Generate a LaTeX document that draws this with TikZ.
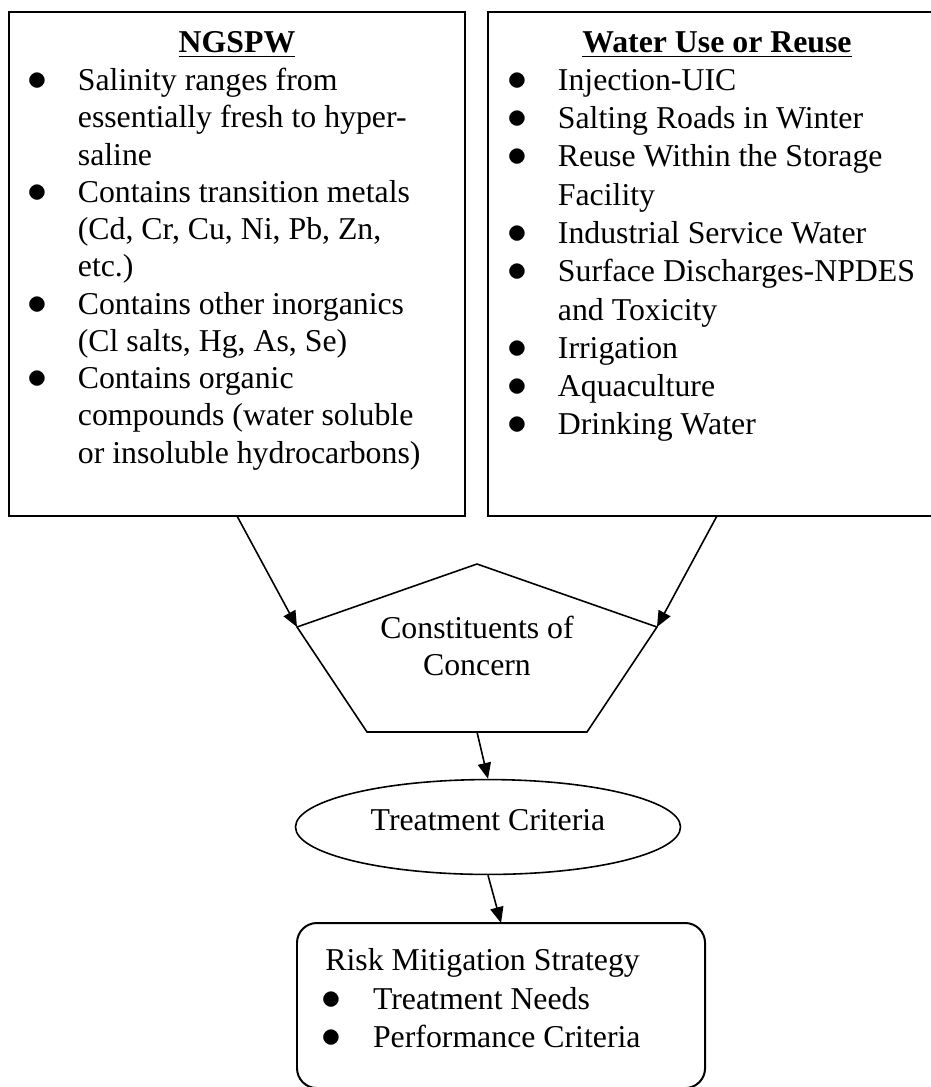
\documentclass[tikz,border=0pt]{standalone}
\usepackage{fontspec}
\setmainfont{Liberation Serif}
\usetikzlibrary{shapes.geometric,arrows.meta}
\newlength\bulx
\newlength\txtx
\newcommand{\bitem}{\par\noindent\hangindent=\txtx\hangafter=1%
 \hspace*{\bulx}\makebox[\dimexpr\txtx-\bulx\relax][l]{\scalebox{1.25}{$\bullet$}}}
\begin{document}
\begin{tikzpicture}[x=.3774pt,y=-.3774pt,
 panel/.style={draw,line width=.75pt,inner sep=0pt,outer sep=0pt,anchor=north west},
 outline/.style={draw,line width=.6pt},
 flow/.style={line width=.6pt,-{Triangle[length=6pt,width=5pt]}},
 font=\fontsize{12}{14}\selectfont]
 \path[use as bounding box,clip] (0,0) rectangle (931,1087);
 % top boxes
 \node[panel] (ngspw) at (9,12) {\parbox[t][190.2pt][t]{172.1pt}{%
 \fontsize{12}{14.06}\selectfont\setlength\bulx{6.9pt}\setlength\txtx{26pt}%
 {\centering\rule{0pt}{15.1pt}\textbf{\underline{NGSPW}}\par}\vspace{.5pt}\raggedright
 \bitem Salinity ranges from\newline essentially fresh to hyper-\newline saline
 \bitem Contains transition metals\newline (Cd, Cr, Cu, Ni, Pb, Zn,\newline etc.)
 \bitem Contains other inorganics\newline (Cl salts, Hg, As, Se)
 \bitem Contains organic\newline compounds (water soluble\newline or insoluble hydrocarbons)}};
 \node[panel] (reuse) at (488,12) {\parbox[t][190.2pt][t]{172.8pt}{%
 \fontsize{12}{14.45}\selectfont\setlength\bulx{7.4pt}\setlength\txtx{26.4pt}%
 {\centering\rule{0pt}{15.1pt}\textbf{\underline{Water Use or Reuse}}\par}\raggedright
 \bitem Injection-UIC
 \bitem Salting Roads in Winter
 \bitem Reuse Within the Storage\newline Facility
 \bitem Industrial Service Water
 \bitem Surface Discharges-NPDES\newline and Toxicity
 \bitem Irrigation
 \bitem Aquaculture
 \bitem Drinking Water}};
 % pentagon
 \coordinate (cocT) at (477,564);
 \coordinate (cocR) at (657,627);
 \coordinate (cocBR) at (587,732);
 \coordinate (cocBL) at (367,732);
 \coordinate (cocL) at (297,627);
 \coordinate (cocS) at (477,732);
 \draw[outline] (cocT)--(cocR)--(cocBR)--(cocBL)--(cocL)--cycle;
 \node[align=center] (coc) at (477,646) {Constituents of\\Concern};
 % ellipse
 \node[ellipse,outline,minimum width=145.3pt,minimum height=35.8pt,inner sep=0pt,
 text height=8pt,text depth=5.2pt] (crit) at (488,827) {Treatment Criteria};
 % bottom box
 \node[panel,rounded corners=7.5pt] (risk) at (297,923) {\parbox[t][62.3pt][t]{154pt}{%
 \fontsize{12}{14.5}\selectfont\setlength\bulx{9.4pt}\setlength\txtx{28.7pt}\raggedright
 \noindent\rule{0pt}{18pt}\hspace*{10.7pt}Risk Mitigation Strategy
 \bitem Treatment Needs
 \bitem Performance Criteria}};
 \begin{scope}[flow]
 \draw (ngspw.south)--(cocL);
 \draw (reuse.south)--(cocR);
 \draw (cocS)--(crit.north);
 \draw (crit.south)--(risk.north);
 \end{scope}
\end{tikzpicture}
\end{document}
